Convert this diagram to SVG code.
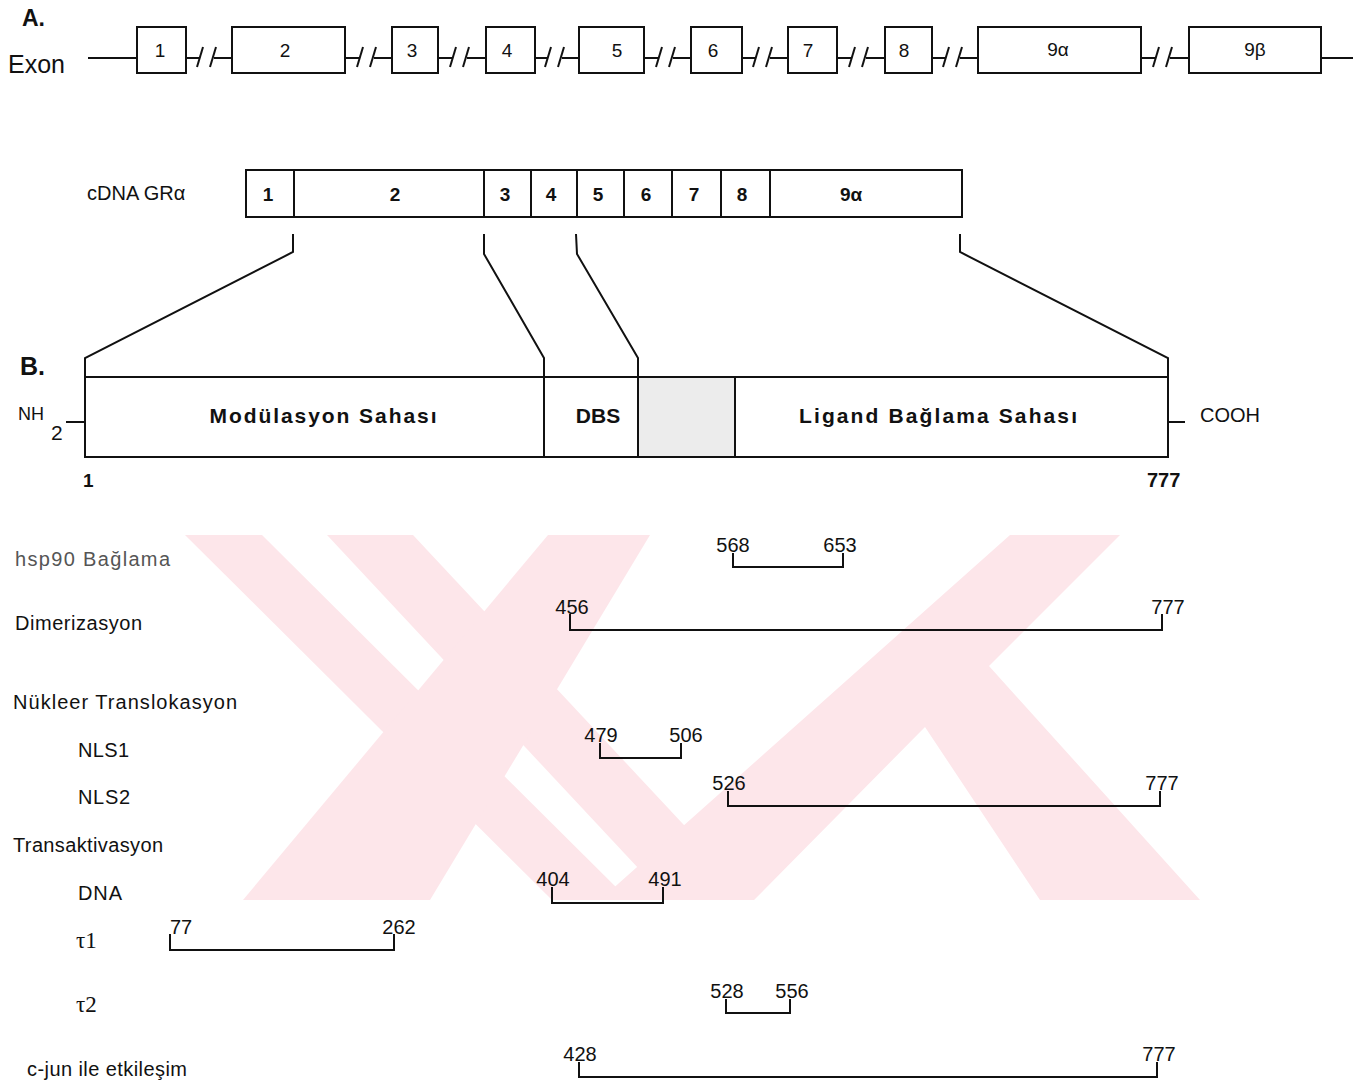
<svg xmlns="http://www.w3.org/2000/svg" width="1370" height="1085" viewBox="0 0 1370 1085">
<style>
.bx{fill:#fff;stroke:#111;stroke-width:2}
.ln{fill:none;stroke:#111;stroke-width:2}
.t{font-family:"Liberation Sans",Arial,sans-serif;fill:#111}
.n{font-family:"Liberation Sans",Arial,sans-serif;font-size:19px;fill:#111;text-anchor:middle}
.b{font-family:"Liberation Sans",Arial,sans-serif;font-weight:bold;fill:#111}
.lab{font-family:"Liberation Sans",Arial,sans-serif;font-size:20px;fill:#111}
.num{font-family:"Liberation Sans",Arial,sans-serif;font-size:20px;fill:#111;text-anchor:middle}
.wm{fill:#fde6ea}
</style>
<defs>
<g id="brk"><line x1="-12" y1="67" x2="-6" y2="47" class="ln"/><line x1="1" y1="67" x2="7" y2="47" class="ln"/></g>
</defs>
<rect width="1370" height="1085" fill="#fff"/>
<g id="watermark">
<polygon class="wm" points="185,535 262,535 629,900 552,900"/>
<polygon class="wm" points="327,535 413,535 754,900 668,900"/>
<polygon class="wm" points="243,900 430,900 650,535 548,535"/>
<polygon class="wm" points="1010,535 1120,535 989,666 1200,900 1040,900 925,727 754,900 600,900"/>
</g>
<g id="exon-row">
<text class="b" x="22" y="26" font-size="23">A.</text>
<text class="t" x="8" y="73" font-size="25">Exon</text>
<g id="exon-lines">
<line class="ln" x1="88" y1="58" x2="137" y2="58"/>
<line class="ln" x1="186" y1="58" x2="200" y2="58"/><line class="ln" x1="214" y1="58" x2="232" y2="58"/>
<line class="ln" x1="345" y1="58" x2="360" y2="58"/><line class="ln" x1="374" y1="58" x2="392" y2="58"/>
<line class="ln" x1="438" y1="58" x2="453" y2="58"/><line class="ln" x1="467" y1="58" x2="486" y2="58"/>
<line class="ln" x1="535" y1="58" x2="548" y2="58"/><line class="ln" x1="562" y1="58" x2="579" y2="58"/>
<line class="ln" x1="644" y1="58" x2="659" y2="58"/><line class="ln" x1="673" y1="58" x2="691" y2="58"/>
<line class="ln" x1="742" y1="58" x2="756" y2="58"/><line class="ln" x1="770" y1="58" x2="788" y2="58"/>
<line class="ln" x1="837" y1="58" x2="852" y2="58"/><line class="ln" x1="866" y1="58" x2="885" y2="58"/>
<line class="ln" x1="932" y1="58" x2="946" y2="58"/><line class="ln" x1="960" y1="58" x2="978" y2="58"/>
<line class="ln" x1="1141" y1="58" x2="1156" y2="58"/><line class="ln" x1="1170" y1="58" x2="1189" y2="58"/>
<line class="ln" x1="1321" y1="58" x2="1353" y2="58"/>
<use href="#brk" x="209" y="0"/><use href="#brk" x="369" y="0"/><use href="#brk" x="462" y="0"/><use href="#brk" x="557" y="0"/>
<use href="#brk" x="668" y="0"/><use href="#brk" x="765" y="0"/><use href="#brk" x="861" y="0"/><use href="#brk" x="955" y="0"/><use href="#brk" x="1165" y="0"/>
</g>
<g id="exon1"><rect class="bx" x="137" y="27" width="49" height="46"/><text class="n" x="160" y="57">1</text></g>
<g id="exon2"><rect class="bx" x="232" y="27" width="113" height="46"/><text class="n" x="285" y="57">2</text></g>
<g id="exon3"><rect class="bx" x="392" y="27" width="46" height="46"/><text class="n" x="412" y="57">3</text></g>
<g id="exon4"><rect class="bx" x="486" y="27" width="49" height="46"/><text class="n" x="507" y="57">4</text></g>
<g id="exon5"><rect class="bx" x="579" y="27" width="65" height="46"/><text class="n" x="617" y="57">5</text></g>
<g id="exon6"><rect class="bx" x="691" y="27" width="51" height="46"/><text class="n" x="713" y="57">6</text></g>
<g id="exon7"><rect class="bx" x="788" y="27" width="49" height="46"/><text class="n" x="808" y="57">7</text></g>
<g id="exon8"><rect class="bx" x="885" y="27" width="47" height="46"/><text class="n" x="904" y="57">8</text></g>
<g id="exon9a"><rect class="bx" x="978" y="27" width="163" height="46"/><text class="n" x="1058" y="56" font-size="16" fill="#333">9α</text></g>
<g id="exon9b"><rect class="bx" x="1189" y="27" width="132" height="46"/><text class="n" x="1255" y="56" font-size="16" fill="#333">9β</text></g>
</g>
<g id="cdna">
<text class="t" x="87" y="200" font-size="20">cDNA  GRα</text>
<rect class="bx" x="246" y="170" width="716" height="47"/>
<g class="ln"><line x1="294" y1="170" x2="294" y2="217"/><line x1="484" y1="170" x2="484" y2="217"/><line x1="531" y1="170" x2="531" y2="217"/><line x1="577" y1="170" x2="577" y2="217"/><line x1="624" y1="170" x2="624" y2="217"/><line x1="672" y1="170" x2="672" y2="217"/><line x1="721" y1="170" x2="721" y2="217"/><line x1="770" y1="170" x2="770" y2="217"/></g>
<g font-weight="bold"><text class="n" x="268" y="201">1</text><text class="n" x="395" y="201">2</text><text class="n" x="505" y="201">3</text><text class="n" x="551" y="201">4</text><text class="n" x="598" y="201">5</text><text class="n" x="646" y="201">6</text><text class="n" x="694" y="201">7</text><text class="n" x="742" y="201">8</text><text class="n" x="851" y="201">9α</text></g>
</g>
<g id="connectors" class="ln">
<polyline points="293,234 293,252 85,358 85,377"/>
<polyline points="484,234 484,254 544,358 544,377"/>
<polyline points="576,234 577,254 638,358 638,377"/>
<polyline points="960,234 960,252 1168,358 1168,377"/>
</g>
<g id="domains">
<text class="b" x="20" y="375" font-size="25">B.</text>
<rect x="638" y="377" width="97" height="80" fill="#ececec"/>
<rect class="ln" x="85" y="377" width="1083" height="80"/>
<line class="ln" x1="544" y1="377" x2="544" y2="457"/>
<line class="ln" x1="638" y1="377" x2="638" y2="457"/>
<line class="ln" x1="735" y1="377" x2="735" y2="457"/>
<text class="b" x="323" y="423" font-size="21" text-anchor="middle" textLength="227">Modülasyon  Sahası</text>
<text class="b" x="598" y="423" font-size="21" text-anchor="middle">DBS</text>
<text class="b" x="938" y="423" font-size="21" text-anchor="middle" textLength="278">Ligand  Bağlama  Sahası</text>
<text class="t" x="18" y="420" font-size="18">NH</text><text class="t" x="51" y="440" font-size="21">2</text>
<line class="ln" x1="66" y1="422" x2="85" y2="422"/>
<line class="ln" x1="1168" y1="422" x2="1185" y2="422"/>
<text class="t" x="1200" y="422" font-size="20">COOH</text>
<text class="b" x="83" y="487" font-size="19">1</text>
<text class="b" x="1147" y="487" font-size="20">777</text>
</g>
<g id="labels" class="lab">
<text x="15" y="566" fill="#555" textLength="155">hsp90  Bağlama</text>
<text x="15" y="630" textLength="127">Dimerizasyon</text>
<text x="13" y="709" textLength="224">Nükleer  Translokasyon</text>
<text x="78" y="757" textLength="51">NLS1</text>
<text x="78" y="804" textLength="52">NLS2</text>
<text x="13" y="852" textLength="150">Transaktivasyon</text>
<text x="78" y="900" textLength="44">DNA</text>
<text x="76" y="948" font-family="Liberation Serif,serif" font-size="23">τ1</text>
<text x="76" y="1012" font-family="Liberation Serif,serif" font-size="23">τ2</text>
<text x="27" y="1076" textLength="160">c-jun ile etkileşim</text>
</g>
<g id="brackets" class="ln">
<polyline points="733,553 733,567 843,567 843,553"/>
<polyline points="570,614 570,630 1162,630 1162,614"/>
<polyline points="600,743 600,758 681,758 681,743"/>
<polyline points="728,791 728,806 1160,806 1160,791"/>
<polyline points="552,887 552,903 663,903 663,887"/>
<polyline points="170,934 170,950 394,950 394,934"/>
<polyline points="726,999 726,1013 790,1013 790,999"/>
<polyline points="579,1062 579,1077 1157,1077 1157,1062"/>
</g>
<g id="bracket-numbers" class="num">
<text x="733" y="552">568</text><text x="840" y="552">653</text>
<text x="572" y="614">456</text><text x="1168" y="614">777</text>
<text x="601" y="742">479</text><text x="686" y="742">506</text>
<text x="729" y="790">526</text><text x="1162" y="790">777</text>
<text x="553" y="886">404</text><text x="665" y="886">491</text>
<text x="181" y="934">77</text><text x="399" y="934">262</text>
<text x="727" y="998">528</text><text x="792" y="998">556</text>
<text x="580" y="1061">428</text><text x="1159" y="1061">777</text>
</g>
</svg>
